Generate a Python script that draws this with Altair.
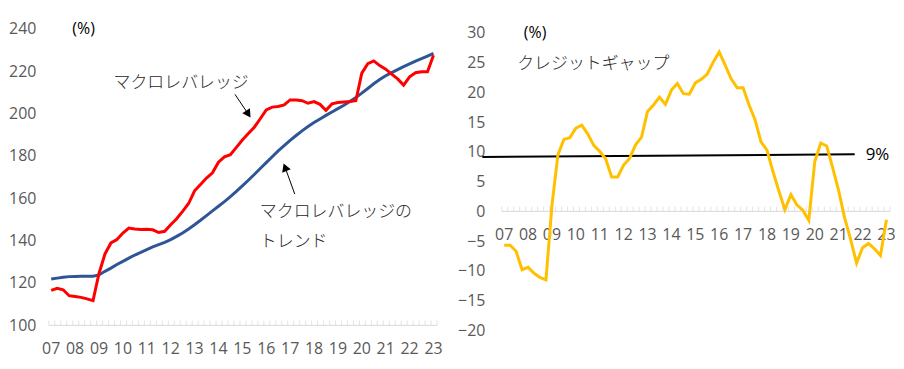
import altair as alt
import pandas as pd

# ---- data (quarterly, 2007Q1 .. 2023Q1) ----
quarter_idx = list(range(65))
macro_leverage = [116.5, 117.5, 116.8, 114.0, 113.6, 113.2, 112.5, 111.7,
                  124.5, 133.7, 138.9, 140.5, 143.6, 145.9, 145.5, 145.2,
                  145.3, 145.1, 143.8, 144.4, 147.5, 150.3, 153.8, 157.5,
                  163.5, 166.5, 169.5, 172.0, 177.0, 179.5, 180.5, 184.0,
                  187.5, 190.5, 193.5, 197.5, 201.7, 203.0, 203.3, 204.0,
                  206.4, 206.3, 206.0, 204.8, 205.6, 204.3, 201.5, 204.5,
                  205.2, 205.4, 205.6, 206.0, 219.0, 223.5, 224.8, 222.6,
                  220.9, 218.6, 216.3, 213.4, 217.3, 219.2, 219.7, 219.7,
                  227.5]
macro_trend = [121.9, 122.3, 122.7, 123.0, 123.1, 123.2, 123.2, 123.2,
               123.8, 125.5, 127.0, 128.7, 130.2, 131.7, 133.2, 134.4,
               135.7, 137.0, 138.1, 139.2, 140.5, 142.0, 143.6, 145.5,
               147.5, 149.6, 151.8, 154.0, 156.2, 158.4, 160.7, 163.2,
               165.8, 168.5, 171.2, 174.0, 176.8, 179.6, 182.3, 184.8,
               187.3, 189.6, 191.8, 193.8, 195.7, 197.4, 199.1, 200.7,
               202.3, 203.9, 205.6, 207.5, 209.6, 211.8, 214.0, 216.0,
               217.8, 219.3, 220.7, 222.1, 223.4, 224.7, 225.9, 227.1,
               228.3]
credit_gap = [-5.7, -5.7, -6.7, -9.8, -9.4, -10.4, -11.1, -11.5,
              1.0, 9.5, 12.1, 12.4, 14.0, 14.5, 13.0, 11.1,
              10.1, 8.8, 5.8, 5.8, 7.8, 8.9, 11.2, 12.5,
              16.8, 17.9, 19.2, 18.0, 20.4, 21.5, 19.8, 19.7,
              21.6, 22.2, 23.1, 25.1, 26.8, 24.6, 22.3, 20.8,
              20.8, 17.9, 15.4, 11.7, 10.3, 6.7, 3.4, 0.3,
              2.8, 1.1, 0.2, -1.5, 8.4, 11.5, 11.0, 7.3,
              3.5, -1.1, -4.7, -8.7, -6.1, -5.4, -6.3, -7.4,
              -1.4]
year_labels = ['07', '08', '09', '10', '11', '12', '13', '14', '15',
               '16', '17', '18', '19', '20', '21', '22', '23']
year_pos = [4 * k for k in range(len(year_labels))]
left_y_ticks = [100, 120, 140, 160, 180, 200, 220, 240]
right_y_ticks = [-20, -15, -10, -5, 0, 5, 10, 15, 20, 25, 30]
threshold_x = [-3.65, 58.68]
threshold_y = [9.15, 9.6]

LABEL_FONT = 'Open Sans'
JP_FONT = 'Noto Sans CJK JP'
GRAY = '#595959'
AXIS_GRAY = '#d9d9d9'

xs = alt.Scale(domain=[-0.4, 64.6], nice=False, zero=False)
tick_pos = [q - 0.4 for q in range(66)]


class Panel:
    def __init__(self, domain, yvals, label_pad):
        self.ys = alt.Scale(domain=domain, nice=False, zero=False)
        self.yaxis = alt.Axis(values=yvals, ticks=False, domain=False, grid=False,
                              labelFont=LABEL_FONT, labelFontSize=16, labelColor=GRAY,
                              labelPadding=label_pad, title=None)
        self.layers = []

    def X(self, f):
        return alt.X(f, scale=xs, axis=None, title=None)

    def Y(self, f):
        return alt.Y(f, scale=self.ys, axis=self.yaxis, title=None)

    def axis_base(self, base):
        self.layers.append(alt.Chart(pd.DataFrame({'b': [base]})).mark_rule(
            color=AXIS_GRAY, strokeWidth=1).encode(y=self.Y('b:Q')))
        self.layers.append(alt.Chart(pd.DataFrame(
            {'t': tick_pos, 'b': [base] * len(tick_pos)})).mark_tick(
            orient='vertical', color=AXIS_GRAY, size=5, thickness=1, yOffset=-2.5).encode(
            x=self.X('t:Q'), y=self.Y('b:Q')))
        self.layers.append(alt.Chart(pd.DataFrame(
            {'p': year_pos, 'lab': year_labels, 'b': [base] * len(year_pos)})).mark_text(
            font=LABEL_FONT, fontSize=16, color=GRAY, dy=24, baseline='middle',
            align='center').encode(x=self.X('p:Q'), y=self.Y('b:Q'), text='lab:N'))

    def line(self, df, field, color, width=3):
        self.layers.append(alt.Chart(df).mark_line(color=color, strokeWidth=width).encode(
            x=self.X('q:Q'), y=self.Y(field + ':Q')))

    def text(self, x, y, txt, font, size, align='left', color='#262626', weight=400):
        self.layers.append(alt.Chart(pd.DataFrame({'x': [x], 'y': [y], 't': [txt]})).mark_text(
            font=font, fontSize=size, color=color, align=align, baseline='middle',
            fontWeight=weight).encode(
            x=self.X('x:Q'), y=self.Y('y:Q'), text='t:N'))

    def arrow(self, x1, y1, x2, y2, ang):
        self.layers.append(alt.Chart(pd.DataFrame(
            {'x': [x1], 'y': [y1], 'x2': [x2], 'y2': [y2]})).mark_rule(
            color='black', strokeWidth=1).encode(
            x=self.X('x:Q'), y=self.Y('y:Q'), x2='x2:Q', y2='y2:Q'))
        self.layers.append(alt.Chart(pd.DataFrame({'x': [x2], 'y': [y2]})).mark_point(
            shape='triangle-up', filled=True, size=85, color='black', opacity=1,
            angle=ang).encode(x=self.X('x:Q'), y=self.Y('y:Q')))

    def chart(self, w, h):
        return alt.layer(*self.layers).properties(width=w, height=h)


# ---- left panel ----
df_l = pd.DataFrame({'q': quarter_idx, 'macro': macro_leverage, 'trend': macro_trend})
L = Panel([100, 240], left_y_ticks, 13)
L.axis_base(100)
L.line(df_l, 'trend', '#2F5597')
L.line(df_l, 'macro', '#FF0000')
L.text(5.43, 239.8, '(%)', LABEL_FONT, 16, 'center', 'black')
L.text(10.43, 214.2, 'マクロレバレッジ', JP_FONT, 17, weight=300)
L.text(34.93, 153.6, 'マクロレバレッジの', JP_FONT, 17, weight=300)
L.text(34.93, 139.5, 'トレンド', JP_FONT, 17, weight=300)
L.arrow(30.77, 209.0, 33.0, 199.7, 146)
L.arrow(40.77, 162.0, 39.15, 174.6, 339)
left = L.chart(390, 298)

# ---- right panel ----
df_r = pd.DataFrame({'q': quarter_idx, 'gap': credit_gap})
df_thr = pd.DataFrame({'q': threshold_x, 'thr': threshold_y})
R = Panel([-20, 30.72], right_y_ticks, 17)
R.axis_base(0)
R.line(df_thr, 'thr', 'black', 2)
R.line(df_r, 'gap', '#FFC000')
R.text(5.18, 30.05, '(%)', LABEL_FONT, 16, 'center', 'black')
R.text(2.18, 24.7, 'クレジットギャップ', JP_FONT, 17, weight=300)
R.text(60.52, 9.4, '9%', LABEL_FONT, 17, 'left', 'black')
right = R.chart(390, 303)

chart = alt.hconcat(left, right, spacing=14).properties(
    padding={'left': 0, 'top': 12, 'right': 0, 'bottom': 0}
).configure_view(stroke=None)

chart.save("out.html", embed_options={"renderer": "svg", "actions": False})
